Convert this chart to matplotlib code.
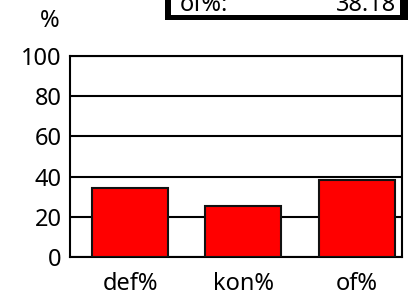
import matplotlib
matplotlib.use("Agg")
import matplotlib.pyplot as plt
from matplotlib.patches import Rectangle

plt.rcParams['font.family'] = ['Noto Sans', 'DejaVu Sans']

# data
categories = ['def%', 'kon%', 'of%']
values = [34.2, 25.5, 38.18]
yticks = [0, 20, 40, 60, 80, 100]
box_label = 'of%:'
box_value = '38.18'

W, H = 409, 298

def fx(x):
    return x / W

def fy(y):
    return 1 - y / H

fig = plt.figure(figsize=(W / 100, H / 100), dpi=100)
ax = fig.add_axes([fx(70), fy(257), (402 - 70) / W, (257 - 56) / H])

ax.bar(range(len(categories)), values, width=0.67, color='#ff0000',
       edgecolor='#111111', linewidth=1.5, zorder=3)

ax.set_xlim(-0.53, 2.40)
ax.set_ylim(0, 100)
ax.set_yticks(yticks)
ax.set_xticks(range(len(categories)))
ax.set_xticklabels(categories)
ax.yaxis.grid(True, color='black', linewidth=1.5)
ax.set_axisbelow(True)
for s in ax.spines.values():
    s.set_linewidth(1.5)
    s.set_color('black')
ax.tick_params(axis='both', length=0, labelsize=17)
ax.tick_params(axis='y', pad=6)
ax.tick_params(axis='x', pad=11)

# unit label
fig.text(fx(50), fy(21), '%', ha='center', va='center', fontsize=17)

# partially visible info box at the top
fig.patches.append(Rectangle((fx(165), fy(20)), (408 - 165) / W, 30 / H,
                             transform=fig.transFigure, facecolor='black',
                             edgecolor='none', zorder=1))
fig.patches.append(Rectangle((fx(171), fy(15)), (400 - 171) / W, 30 / H,
                             transform=fig.transFigure, facecolor='white',
                             edgecolor='none', zorder=2))
fig.text(fx(180), fy(11), box_label, ha='left', va='baseline', fontsize=17, zorder=5)
fig.text(fx(396), fy(11), box_value, ha='right', va='baseline', fontsize=17, zorder=5)

fig.savefig('out.png', dpi=100)
